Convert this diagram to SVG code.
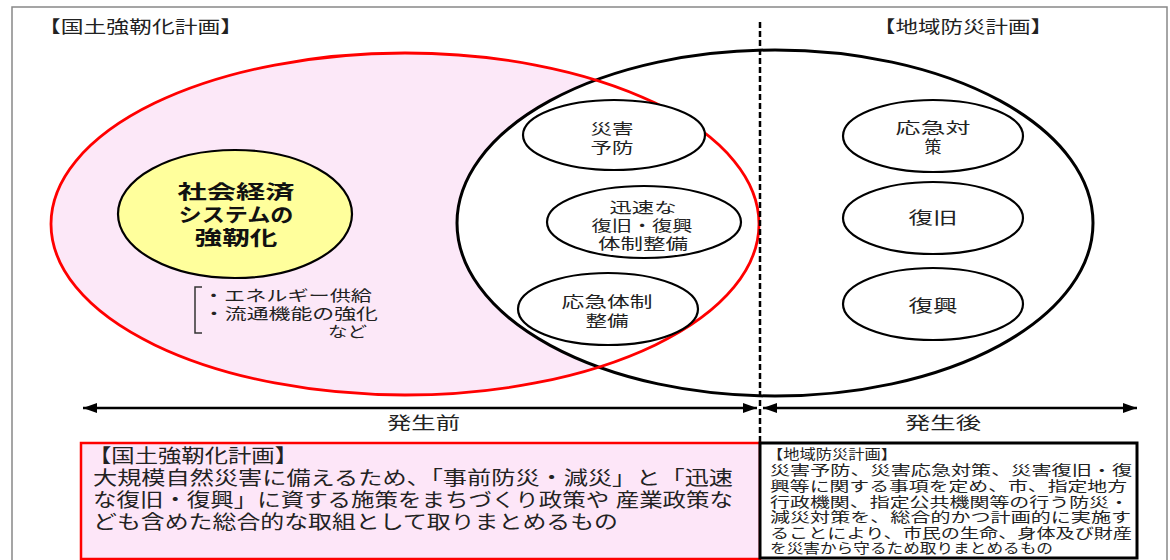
<svg xmlns="http://www.w3.org/2000/svg" width="1170" height="560" viewBox="0 0 1170 560">
<style>
text{font-family:"Liberation Sans","Noto Sans CJK JP","Noto Sans CJK SC",sans-serif;fill:#222;dominant-baseline:central}
tspan{dominant-baseline:central}
.m{text-anchor:middle}
.t17{font-size:17px}
.t15{font-size:15px}
.t135{font-size:13.5px}
.t19{font-size:19px}
.b{font-weight:bold;font-size:19.5px;fill:#111}
.sm{fill:#fff;stroke:#000;stroke-width:2.2}
</style>
<defs>
<marker id="ah" viewBox="0 0 14 10" refX="14" refY="5" markerWidth="14" markerHeight="10" markerUnits="userSpaceOnUse" orient="auto-start-reverse">
<path d="M0,0 L14,5 L0,10 Z" fill="#000"/>
</marker>
</defs>
<rect x="0" y="0" width="1170" height="560" fill="#fff"/>
<rect x="12" y="7" width="1155" height="570" fill="none" stroke="#888" stroke-width="1.5"/>

<g id="kokudo-area">
<ellipse cx="405" cy="224" rx="354" ry="171" fill="#fce8f8" stroke="none"/>
</g>
<g id="chiiki-area">
<ellipse cx="775" cy="223" rx="318" ry="173" fill="#fff" stroke="#000" stroke-width="3"/>
</g>
<ellipse cx="405" cy="224" rx="354" ry="171" fill="none" stroke="#f00" stroke-width="2.8"/>

<g id="title-left"><text class="t17" x="38" y="27" textLength="205" lengthAdjust="spacingAndGlyphs">【国土強靭化計画】</text></g>
<g id="title-right"><text class="t17" x="873" y="27" textLength="180" lengthAdjust="spacingAndGlyphs">【地域防災計画】</text></g>

<g id="node-shakai">
<ellipse cx="235" cy="214" rx="117" ry="64" fill="#ffff9c" stroke="#000" stroke-width="2.2"/>
<text class="b m"><tspan x="236" y="192" textLength="117" lengthAdjust="spacingAndGlyphs">社会経済</tspan><tspan x="236" y="215" textLength="115" lengthAdjust="spacingAndGlyphs">システムの</tspan><tspan x="236" y="238" textLength="83" lengthAdjust="spacingAndGlyphs">強靭化</tspan></text>
</g>

<g id="note-examples">
<path d="M202,287 H195 V333 H202" fill="none" stroke="#333" stroke-width="1.5"/>
<text class="t15"><tspan x="203" y="295" textLength="169" lengthAdjust="spacingAndGlyphs">・エネルギー供給</tspan><tspan x="203" y="313" textLength="175" lengthAdjust="spacingAndGlyphs">・流通機能の強化</tspan><tspan x="328" y="331" textLength="39" lengthAdjust="spacingAndGlyphs">など</tspan></text>
</g>

<g id="node-saigai-yobou">
<ellipse class="sm" cx="614" cy="135" rx="91" ry="35"/>
<text class="t15 m"><tspan x="612" y="128" textLength="43" lengthAdjust="spacingAndGlyphs">災害</tspan><tspan x="612" y="147" textLength="43" lengthAdjust="spacingAndGlyphs">予防</tspan></text>
</g>
<g id="node-jinsoku">
<ellipse class="sm" cx="644" cy="222" rx="97" ry="36"/>
<text class="t15 m"><tspan x="643" y="207" textLength="67" lengthAdjust="spacingAndGlyphs">迅速な</tspan><tspan x="642" y="225" textLength="101" lengthAdjust="spacingAndGlyphs">復旧・復興</tspan><tspan x="643" y="243" textLength="90" lengthAdjust="spacingAndGlyphs">体制整備</tspan></text>
</g>
<g id="node-oukyu-taisei">
<ellipse class="sm" cx="608" cy="309" rx="90" ry="36"/>
<text class="t15 m"><tspan x="607" y="301" textLength="91" lengthAdjust="spacingAndGlyphs">応急体制</tspan><tspan x="607" y="320" textLength="43" lengthAdjust="spacingAndGlyphs">整備</tspan></text>
</g>
<g id="node-oukyu-taisaku">
<ellipse class="sm" cx="933" cy="136" rx="90" ry="36"/>
<text class="t15 m"><tspan x="933" y="127" textLength="75" lengthAdjust="spacingAndGlyphs">応急対</tspan><tspan x="933" y="147" font-size="17">策</tspan></text>
</g>
<g id="node-fukkyu">
<ellipse class="sm" cx="933" cy="218" rx="90" ry="36"/>
<text class="t17 m" x="933" y="218" textLength="49" lengthAdjust="spacingAndGlyphs">復旧</text>
</g>
<g id="node-fukkou">
<ellipse class="sm" cx="933" cy="304" rx="90" ry="36"/>
<text class="t17 m" x="933" y="306" textLength="49" lengthAdjust="spacingAndGlyphs">復興</text>
</g>

<g id="connectors">
<line x1="760" y1="22" x2="760" y2="443" stroke="#000" stroke-width="2.5" stroke-dasharray="6,3"/>
<line x1="83" y1="408" x2="757" y2="408" stroke="#000" stroke-width="2.5" marker-start="url(#ah)" marker-end="url(#ah)"/>
<line x1="763" y1="408" x2="1137" y2="408" stroke="#000" stroke-width="2.5" marker-start="url(#ah)" marker-end="url(#ah)"/>
</g>

<g id="label-before"><text class="t17" x="387" y="423" textLength="73" lengthAdjust="spacingAndGlyphs">発生前</text></g>
<g id="label-after"><text class="t17" x="905" y="423" textLength="76" lengthAdjust="spacingAndGlyphs">発生後</text></g>

<g id="box-kokudo">
<rect x="81" y="443" width="679" height="116" fill="#fde6f8" stroke="#f00" stroke-width="2.5"/>
<text class="t19"><tspan x="88" y="456" textLength="210" lengthAdjust="spacingAndGlyphs">【国土強靭化計画】</tspan><tspan x="93" y="478" textLength="640" lengthAdjust="spacingAndGlyphs">大規模自然災害に備えるため、「事前防災・減災」と「迅速</tspan><tspan x="93" y="500" textLength="640" lengthAdjust="spacingAndGlyphs">な復旧・復興」に資する施策をまちづくり政策や 産業政策な</tspan><tspan x="93" y="522" textLength="525" lengthAdjust="spacingAndGlyphs">ども含めた総合的な取組として取りまとめるもの</tspan></text>
</g>

<g id="box-chiiki">
<rect x="760" y="443" width="377" height="115" fill="#fff" stroke="#000" stroke-width="3"/>
<text class="t135"><tspan x="767" y="454" textLength="130" lengthAdjust="spacingAndGlyphs">【地域防災計画】</tspan><tspan x="770" y="470" textLength="362" lengthAdjust="spacingAndGlyphs">災害予防、災害応急対策、災害復旧・復</tspan><tspan x="770" y="486" textLength="357" lengthAdjust="spacingAndGlyphs">興等に関する事項を定め、市、指定地方</tspan><tspan x="770" y="501.5" textLength="359" lengthAdjust="spacingAndGlyphs">行政機関、指定公共機関等の行う防災・</tspan><tspan x="770" y="517" textLength="361" lengthAdjust="spacingAndGlyphs">減災対策を、総合的かつ計画的に実施す</tspan><tspan x="770" y="532.5" textLength="362" lengthAdjust="spacingAndGlyphs">ることにより、市民の生命、身体及び財産</tspan><tspan x="770" y="548" textLength="283" lengthAdjust="spacingAndGlyphs">を災害から守るため取りまとめるもの</tspan></text>
</g>
</svg>
